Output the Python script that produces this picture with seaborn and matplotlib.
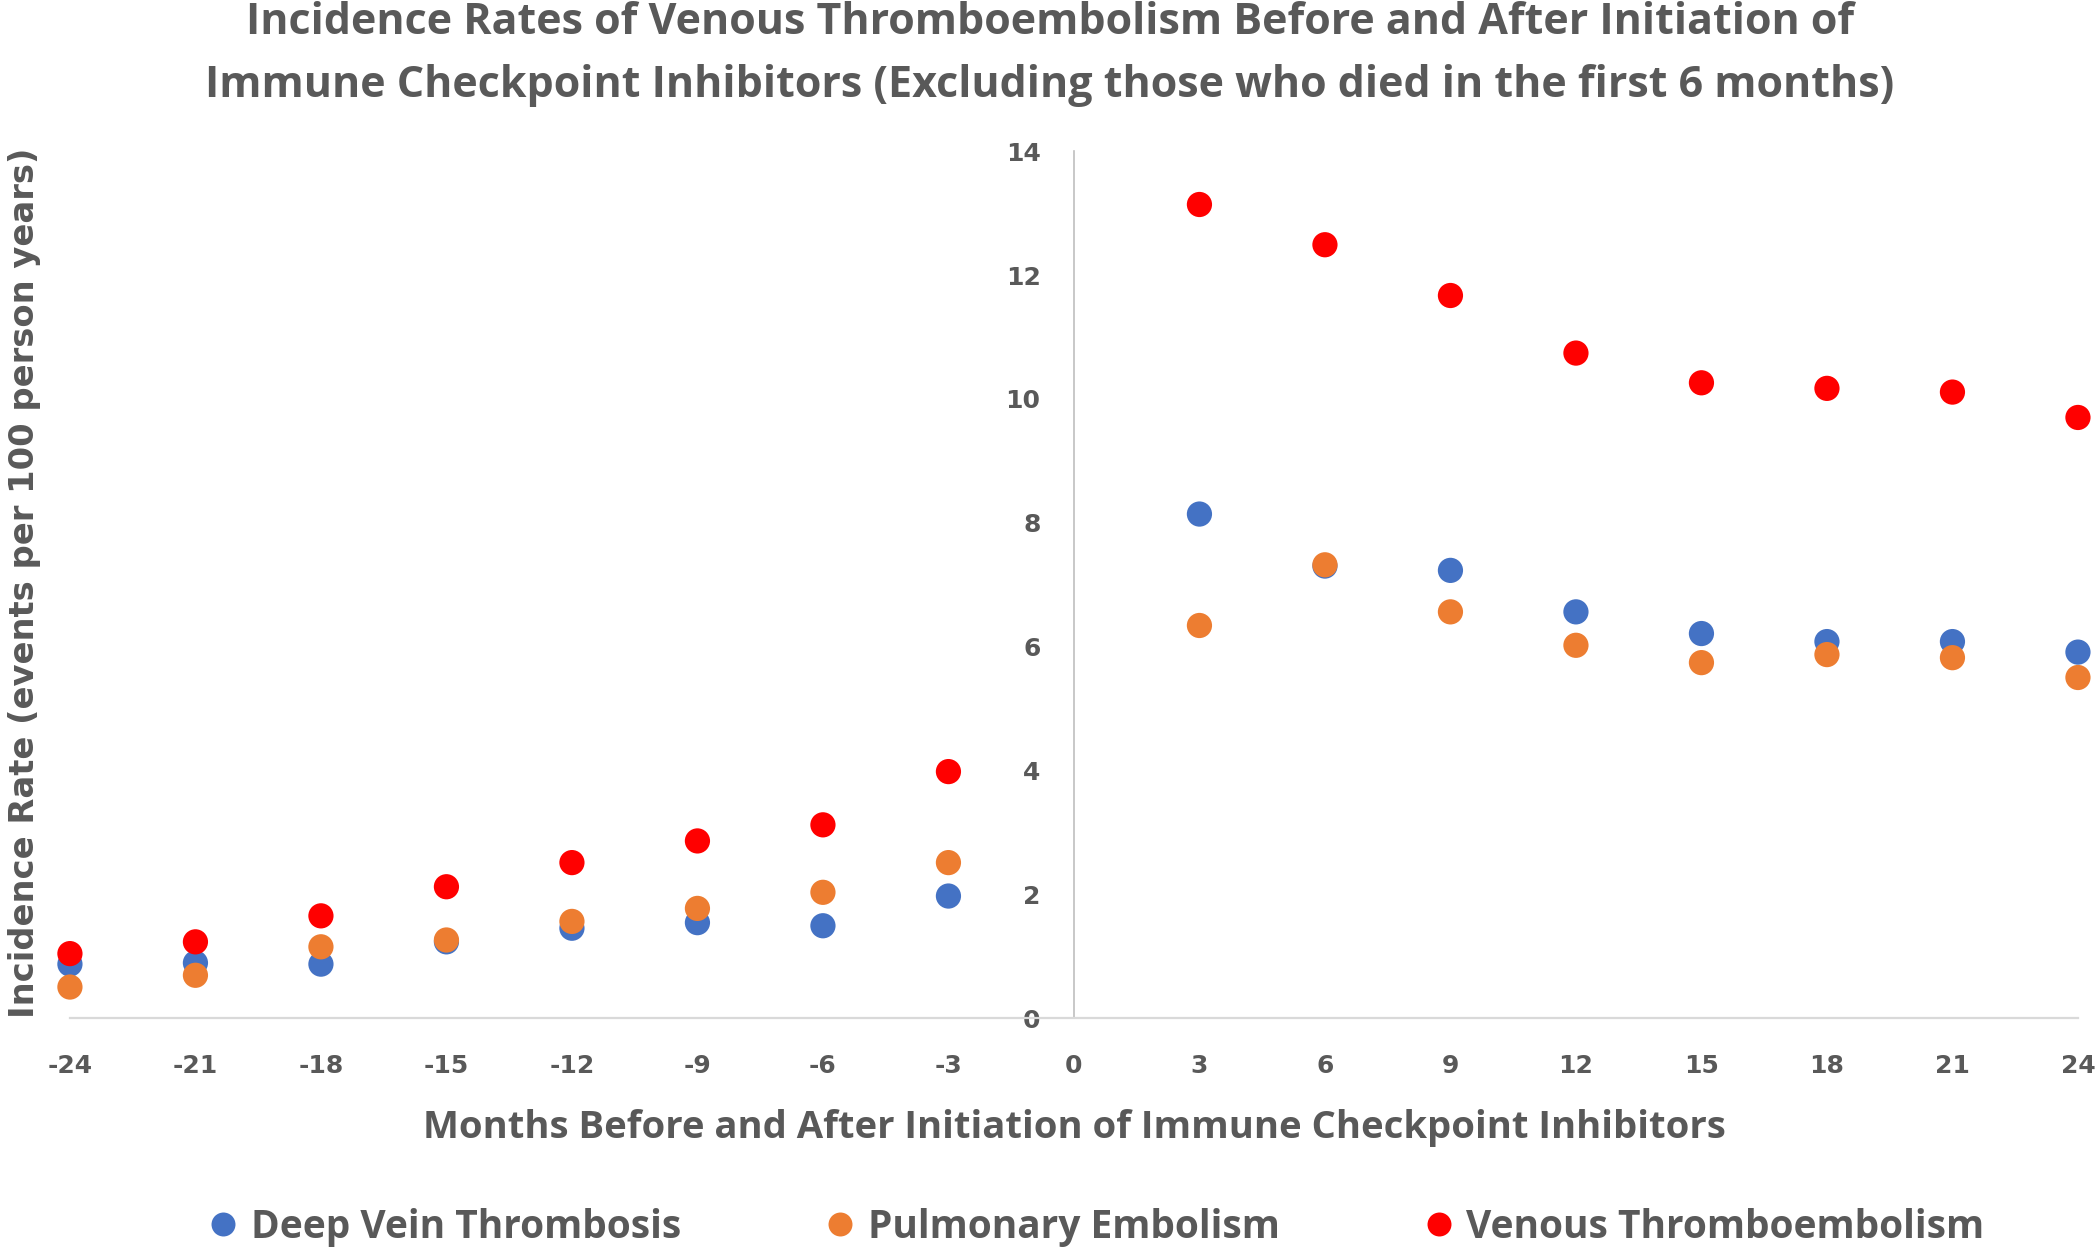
import numpy as np
import pandas as pd
import matplotlib
matplotlib.use("Agg")
import matplotlib.pyplot as plt
import seaborn as sns

months = [-24, -21, -18, -15, -12, -9, -6, -3, 3, 6, 9, 12, 15, 18, 21, 24]
dvt = [0.87, 0.89, 0.87, 1.23, 1.45, 1.54, 1.49, 1.97, 8.14, 7.30, 7.23, 6.56, 6.21, 6.08, 6.08, 5.91]
pe = [0.50, 0.69, 1.15, 1.26, 1.56, 1.77, 2.03, 2.51, 6.34, 7.32, 6.56, 6.02, 5.74, 5.87, 5.82, 5.50]
vte = [1.04, 1.23, 1.65, 2.12, 2.51, 2.86, 3.12, 3.98, 13.14, 12.49, 11.67, 10.74, 10.26, 10.17, 10.11, 9.70]

series_names = ["Deep Vein Thrombosis", "Pulmonary Embolism", "Venous Thromboembolism"]
series_colors = ["#4472C4", "#ED7D31", "#FF0000"]
x_ticks = list(range(-24, 25, 3))
y_ticks = list(range(0, 15, 2))

title = ("Incidence Rates of Venous Thromboembolism Before and After Initiation of\n"
         "Immune Checkpoint Inhibitors (Excluding those who died in the first 6 months)")
x_label = "Months Before and After Initiation of Immune Checkpoint Inhibitors"
y_label = "Incidence Rate (events per 100 person years)"

df = pd.concat([
    pd.DataFrame({"month": months, "rate": vals, "series": name})
    for name, vals in zip(series_names, [dvt, pe, vte])
], ignore_index=True)

sns.set_style("white")
plt.rcParams["axes.unicode_minus"] = False
grey = "#595959"
label_font = "Open Sans"
tick_font = "DejaVu Sans"

fig = plt.figure(figsize=(21, 12.5), dpi=100)
ax = fig.add_axes([0.0333, 0.1856, 0.9562, 0.6934])

sns.scatterplot(data=df, x="month", y="rate", hue="series",
                palette=dict(zip(series_names, series_colors)),
                s=330, linewidth=0, ax=ax, legend=True, clip_on=False, zorder=3)

ax.set_xlim(-24, 24)
ax.set_ylim(0, 14)
ax.set_xticks(x_ticks)
ax.set_yticks(y_ticks)
ax.spines["left"].set_position(("data", 0))
ax.spines["left"].set_color("#BFBFBF")
ax.spines["bottom"].set_color("#D9D9D9")
ax.spines["left"].set_linewidth(1.2)
ax.spines["bottom"].set_linewidth(1.6)
for s in ["top", "right"]:
    ax.spines[s].set_visible(False)

ax.tick_params(axis="both", length=0, colors=grey)
ax.tick_params(axis="y", pad=24)
ax.tick_params(axis="x", pad=26)
for lab in ax.get_xticklabels() + ax.get_yticklabels():
    lab.set_fontfamily(tick_font)
    lab.set_fontweight("bold")
    lab.set_fontsize(18)
    lab.set_color(grey)

ax.set_xlabel(x_label, fontsize=27.5, fontweight="bold", color=grey,
              family=label_font, labelpad=22)
ax.set_ylabel("")
fig.text(0.0115, 0.534, y_label, rotation=90, ha="center", va="center",
         fontsize=24.3, fontweight="bold", color=grey, family=tick_font)

fig.text(0.5, 0.957, title, ha="center", va="center", fontsize=31,
         fontweight="bold", color=grey, family=label_font, linespacing=1.6)

handles, labels = ax.get_legend_handles_labels()
ax.legend_.remove()
leg = fig.legend(handles, labels, loc="center", bbox_to_anchor=(0.521, 0.018),
                 ncol=3, frameon=False, columnspacing=3.6, handletextpad=0.2,
                 handlelength=1.0, markerscale=0.95,
                 prop={"family": label_font, "weight": "bold", "size": 28})
for t in leg.get_texts():
    t.set_color(grey)

fig.savefig("out.png", dpi=100)
